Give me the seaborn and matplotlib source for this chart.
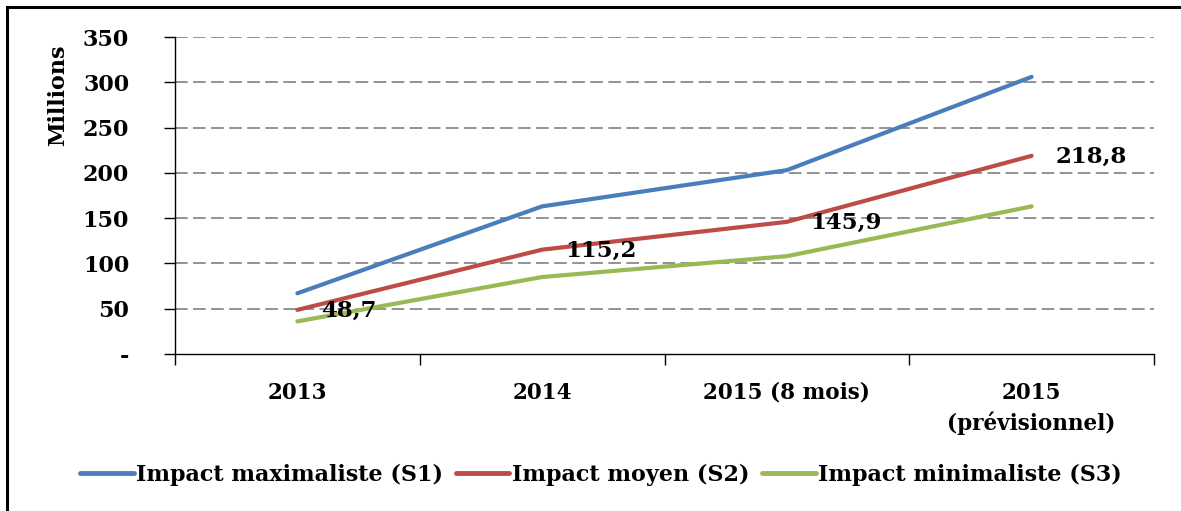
import matplotlib
matplotlib.use("Agg")
import matplotlib.pyplot as plt
import seaborn as sns
import pandas as pd
from matplotlib.patches import Rectangle
from matplotlib.ticker import FixedLocator

categories = ["2013", "2014", "2015 (8 mois)", "2015\n(prévisionnel)"]
s1 = [67, 163, 203, 306]
s2 = [48.7, 115.2, 145.9, 218.8]
s3 = [36, 85, 108, 163]
series_names = ["Impact maximaliste (S1)", "Impact moyen (S2)", "Impact minimaliste (S3)"]
s2_labels = ["48,7", "115,2", "145,9", "218,8"]
yticks = [0, 50, 100, 150, 200, 250, 300, 350]
yticklabels = ["-", "50", "100", "150", "200", "250", "300", "350"]
colors = ["#4A7EBB", "#BE4B48", "#98B954"]

sns.set_style("white")
plt.rcParams["font.family"] = ["DejaVu Serif"]
plt.rcParams["font.weight"] = "bold"
plt.rcParams["text.color"] = "black"
plt.rcParams["axes.labelcolor"] = "black"
plt.rcParams["xtick.color"] = "black"
plt.rcParams["ytick.color"] = "black"

rows = []
for name, vals in zip(series_names, [s1, s2, s3]):
    for i, v in enumerate(vals):
        rows.append({"x": i, "value": v, "serie": name})
df = pd.DataFrame(rows)

fig = plt.figure(figsize=(11.81, 5.11), dpi=100)
ax = fig.add_axes([175 / 1181, 1 - 354 / 511, (1154 - 175) / 1181, (354 - 37) / 511])

sns.lineplot(data=df, x="x", y="value", hue="serie", palette=colors,
             hue_order=series_names, linewidth=3, ax=ax, legend=False)

for i, (v, lab) in enumerate(zip(s2, s2_labels)):
    ax.annotate(lab, (i, v), xytext=(17, -1), textcoords="offset points",
                ha="left", va="center", fontsize=16.5, fontweight="bold", color="black")

ax.set_xlim(-0.5, 3.5)
ax.set_ylim(0, 350)
ax.set_yticks(yticks)
ax.set_yticklabels(yticklabels, fontsize=16, fontweight="bold")
ax.set_xticks(range(len(categories)))
ax.set_xticklabels(categories, fontsize=15.5, fontweight="bold", linespacing=1.4, va="top")
ax.xaxis.set_minor_locator(FixedLocator([-0.5, 0.5, 1.5, 2.5, 3.5]))
ax.tick_params(axis="x", which="major", length=0, pad=20)
ax.tick_params(axis="x", which="minor", length=8, width=1, color="black", direction="out", bottom=True)
ax.tick_params(axis="y", length=8, width=1, color="black", direction="out", left=True, pad=25)
ax.set_xlabel("")
ax.set_ylabel("")

for y in yticks[1:]:
    ax.axhline(y, color="#8A8A8A", linewidth=1.3, linestyle=(0, (7, 3)), zorder=0)

for side in ["top", "right"]:
    ax.spines[side].set_visible(False)
for side in ["left", "bottom"]:
    ax.spines[side].set_color("black")
    ax.spines[side].set_linewidth(1)

fig.text(58 / 1181, 1 - 95 / 511, "Millions", rotation=90, ha="center", va="center",
         fontsize=16, fontweight="bold")

handles = [plt.Line2D([], [], color=c, linewidth=3.5) for c in colors]
fig.legend(handles, series_names, loc="center", bbox_to_anchor=(601 / 1181, 1 - 475 / 511),
           ncol=3, frameon=False, prop={"size": 16, "weight": "bold"},
           handlelength=2.4, handletextpad=0.1, columnspacing=0.6)

fig.patches.append(Rectangle((7 / 1181, -0.1), 1.2, 1 - 7 / 511 + 0.1, transform=fig.transFigure,
                             fill=False, edgecolor="black", linewidth=2.2, zorder=10))

fig.savefig("out.png", dpi=100)
